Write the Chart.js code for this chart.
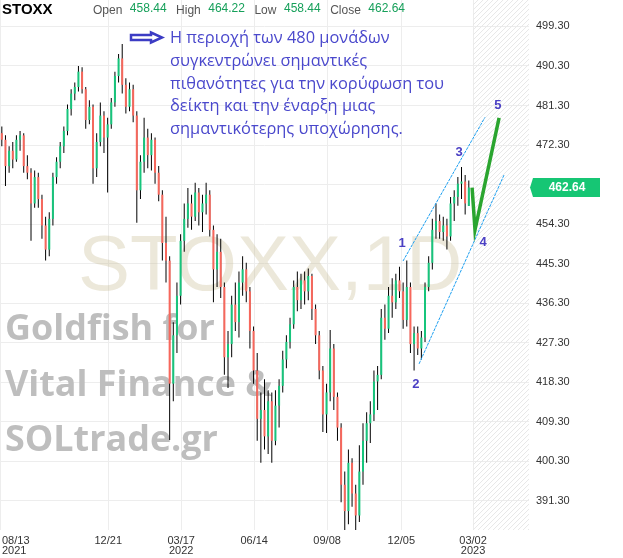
<!DOCTYPE html>
<html>
<head>
<meta charset="utf-8">
<script src="https://cdn.jsdelivr.net/npm/chart.js@4.4.1/dist/chart.umd.min.js"></script>
<style>
  html, body { margin: 0; padding: 0; background: #fff; }
  canvas { display: block; }
</style>
</head>
<body>
<canvas id="stoxxChart" width="623" height="558"></canvas>
<script>
/* ==============================================
   STOXX 600 daily chart (3-session candles)
   ============================================== */

// OHLC, one candle per 3 trading sessions, Aug 2021 -> Mar 2023
const opens = [
  475, 473.5, 467.5, 471, 469, 473.5, 474.5, 467.5, 466, 459,
  465, 460, 454, 448.5, 455.5, 465, 468.5, 472, 475.5, 480.5,
  484, 485.5, 489, 485, 478, 481, 467, 473, 479, 474,
  477, 482, 488, 492, 486, 481, 485, 479, 462, 468.5,
  474, 470, 473.5, 466, 461, 450, 446, 418, 429, 438,
  450.5, 455.5, 459, 456, 461.5, 457, 459, 461, 453, 444,
  448, 440, 424, 427, 436, 432, 441, 444, 439, 430,
  421, 410, 412, 406, 414, 405, 413, 417.5, 423.5, 427.5,
  431.5, 440, 437, 441.5, 439, 442.5, 435, 429, 421, 411,
  416, 426, 415, 408, 395, 389, 400, 393, 388, 398,
  405, 409, 411, 418.5, 420, 433, 430.5, 438, 436.5, 441.5,
  439, 432.5, 440, 427, 429.5, 426, 428.5, 440, 445.5, 453,
  455, 452.5, 454, 451.5, 459, 460.5, 463.5, 464, 458.44
];
const highs = [
  476.5, 474.5, 472, 473, 474.5, 475.5, 475, 470, 467, 466.5,
  466, 461, 456, 457, 466, 469.5, 473, 476.5, 481.5, 485,
  486.5, 490.3, 490, 485.5, 482.5, 481.5, 475, 482, 480, 478.5,
  483, 489, 493, 495.3, 487.5, 486.5, 486, 480, 470, 478.5,
  476, 475, 474, 467.5, 462, 456, 447, 432, 441, 452,
  459, 462.5, 461, 463.7, 462.5, 461, 463.7, 462, 454, 452,
  451, 441, 430, 438, 441, 443.5, 447, 445.5, 440, 431,
  425, 416, 419, 416.5, 416, 416.5, 419, 425.5, 429, 433,
  441.5, 443.5, 443, 443.5, 444.2, 443, 436, 430, 422, 418,
  430.2, 427, 416, 409, 398, 403, 401, 395, 404, 409,
  411.5, 414, 421, 422, 435, 436, 440, 442, 443, 444.6,
  441, 446, 441, 431, 431, 430, 441, 447, 455.5, 459,
  456.5, 456, 455.5, 460.5, 462, 465, 467.3, 465.5, 464.22
];
const lows = [
  472, 463, 466, 467, 468.5, 471, 466, 464.5, 450.5, 458,
  458, 451, 446, 447, 454, 463.5, 467, 470.5, 474.5, 479,
  482.5, 484.5, 484, 476, 477, 463.5, 465, 472, 470.5, 461.5,
  476, 481, 486.5, 484, 479.5, 480, 477.5, 454.6, 460, 466,
  467, 466.5, 463.5, 459.5, 446, 441, 405.2, 414, 425, 436,
  448, 453.5, 453, 455, 454, 452.5, 456.5, 451.5, 436.5, 440,
  437.5, 420, 417, 424, 430, 428.5, 438, 436.5, 426, 418,
  405, 400, 403, 402, 400, 404, 408, 416, 421.5, 426,
  430.5, 434.5, 435, 436, 437, 432.5, 427, 419, 407, 406.8,
  414, 412, 405, 391, 383, 386, 390, 383, 386.5, 395,
  400, 404.5, 409.5, 412, 419, 428, 429.5, 433, 435, 437.5,
  430.5, 431, 425, 421, 424.5, 423.5, 427.5, 439, 444, 451,
  451, 450.5, 448.5, 450.5, 455, 458.5, 460, 456.5, 458.44
];
const closes = [
  473.5, 467.5, 471, 469, 473.5, 474.5, 467.5, 466, 459, 465,
  460, 454, 448.5, 455.5, 465, 468.5, 472, 475.5, 480.5, 484,
  485.5, 489, 485, 478, 481, 467, 473, 479, 474, 477,
  482, 488, 492, 486, 481, 485, 479, 462, 468.5, 474,
  470, 473.5, 466, 461, 450, 446, 418, 429, 438, 450.5,
  455.5, 459, 456, 461.5, 457, 459, 461, 453, 444, 448,
  440, 424, 427, 436, 432, 441, 444, 439, 430, 421,
  410, 412, 406, 414, 405, 413, 417.5, 423.5, 427.5, 431.5,
  440, 437, 441.5, 439, 442.5, 435, 429, 421, 411, 416,
  426, 415, 408, 395, 389, 400, 393, 388, 398, 405,
  409, 411, 418.5, 420, 433, 430.5, 438, 436.5, 441.5, 439,
  432.5, 440, 427, 429.5, 426, 428.5, 440, 445.5, 453, 455,
  452.5, 454, 451.5, 459, 460.5, 463.5, 464, 459, 462.64
];

// x axis is counted in trading sessions; each candle covers 3 sessions
const sessionsPerCandle = 3;
const tickSessions = [0, 89, 149, 209, 269, 330, 389];
const tickLabels = [['08/13', '2021'], ['12/21'], ['03/17', '2022'], ['06/14'], ['09/08'], ['12/05'], ['03/02', '2023']];
const futureStart = 389;
const lastSession = 435;
const priceTicks = [391.3, 400.3, 409.3, 418.3, 427.3, 436.3, 445.3, 454.3, 463.3, 472.3, 481.3, 490.3, 499.3];

// header quote
const quoteNames = ['Open', 'High', 'Low', 'Close'];
const quoteValues = [458.44, 464.22, 458.44, 462.64];

// Elliott wave drawing (session, price)
const channelUpper = [[331.4, 445.9], [398.8, 478.6]];
const channelLower = [[344.6, 422.5], [414.5, 465.5]];
const projection = [[388.2, 462.6], [390.6, 453.0], [410.4, 478.5]];
const waveLabels = [['1', 330.6, 449.8], ['2', 342, 417.9], ['3', 377.5, 470.6], ['4', 397.2, 450.2], ['5', 409.5, 481.4]];
const note = [
  'Η περιοχή των 480 μονάδων',
  'συγκεντρώνει σημαντικές',
  'πιθανότητες για την κορύφωση του',
  'δείκτη και την έναρξη μιας',
  'σημαντικότερης υποχώρησης.'
];
const credits = ['Goldfish for', 'Vital Finance &', 'SOLtrade.gr'];

const UP = '#17c57c';
const DOWN = '#f7675c';
const AXIS_FONT = '"Liberation Sans", Arial, sans-serif';

const candleX = closes.map((c, i) => sessionsPerCandle * i + sessionsPerCandle / 2);
const bodies = closes.map((c, i) => ({ x: candleX[i], y: [opens[i], c] }));
const wicks = closes.map((c, i) => ({ x: candleX[i], y: [lows[i], highs[i]] }));
const bodyColors = closes.map((c, i) => c >= opens[i] ? UP : DOWN);

const overlayPlugin = {
    id: 'overlay',
    beforeDatasetsDraw(chart) {
        const { ctx, chartArea, scales: { x } } = chart;
        const hx = x.getPixelForValue(futureStart);

        // hatched future zone
        ctx.save();
        ctx.beginPath();
        ctx.rect(hx, 0, chartArea.right - hx, chartArea.bottom);
        ctx.clip();
        ctx.strokeStyle = '#e7e7e7';
        ctx.lineWidth = 1;
        for (let t = hx - chartArea.bottom; t < chartArea.right; t += 5) {
            ctx.beginPath();
            ctx.moveTo(t, chartArea.bottom);
            ctx.lineTo(t + chartArea.bottom, 0);
            ctx.stroke();
        }
        ctx.restore();

        // big symbol watermark
        ctx.save();
        ctx.fillStyle = 'rgba(200, 190, 150, 0.35)';
        ctx.font = '78px ' + AXIS_FONT;
        ctx.textBaseline = 'alphabetic';
        ctx.fillText('STOXX,1D', 78, 290);

        // credits
        ctx.font = 'bold 38px "Open Sans", sans-serif';
        const fit = 210 / ctx.measureText(credits[0]).width;
        ctx.font = 'bold ' + (38 * fit).toFixed(1) + 'px "Open Sans", sans-serif';
        ctx.fillStyle = '#bebebe';
        credits.forEach((line, i) => ctx.fillText(line, 5, 340 + i * 55.5));
        ctx.restore();
    },
    afterDatasetsDraw(chart) {
        const { ctx, scales: { x, y } } = chart;
        const pt = (p) => [x.getPixelForValue(p[0]), y.getPixelForValue(p[1])];

        ctx.save();
        // channel
        ctx.strokeStyle = '#1a9ef0';
        ctx.lineWidth = 1;
        ctx.setLineDash([3, 1]);
        [channelUpper, channelLower].forEach(line => {
            ctx.beginPath();
            ctx.moveTo(...pt(line[0]));
            ctx.lineTo(...pt(line[1]));
            ctx.stroke();
        });
        ctx.setLineDash([]);

        // projected path
        ctx.strokeStyle = '#2aa52f';
        ctx.lineWidth = 3.5;
        ctx.beginPath();
        projection.forEach((p, i) => i ? ctx.lineTo(...pt(p)) : ctx.moveTo(...pt(p)));
        ctx.stroke();

        // wave numbers
        ctx.fillStyle = '#4b40c4';
        ctx.font = 'bold 13px ' + AXIS_FONT;
        ctx.textAlign = 'center';
        ctx.textBaseline = 'middle';
        waveLabels.forEach(([t, s, p]) => ctx.fillText(t, ...pt([s, p])));

        // comment text with arrow
        ctx.textAlign = 'left';
        ctx.textBaseline = 'alphabetic';
        ctx.font = '16px "Open Sans", sans-serif';
        const k = 275 / ctx.measureText(note[2]).width;
        ctx.font = (16 * k).toFixed(1) + 'px "Open Sans", sans-serif';
        ctx.fillStyle = '#4a48cc';
        note.forEach((line, i) => ctx.fillText(line, 170, 43 + i * 22.8));

        ctx.beginPath();
        ctx.moveTo(131, 35);
        ctx.lineTo(151, 35);
        ctx.lineTo(151, 32.5);
        ctx.lineTo(162, 37.5);
        ctx.lineTo(151, 42.5);
        ctx.lineTo(151, 40);
        ctx.lineTo(131, 40);
        ctx.closePath();
        ctx.fillStyle = '#ffffff';
        ctx.fill();
        ctx.strokeStyle = '#3c3cc4';
        ctx.lineWidth = 2.5;
        ctx.stroke();
        ctx.restore();
    },
    afterDraw(chart) {
        const { ctx, chartArea, scales: { x, y } } = chart;
        ctx.save();

        // date labels
        ctx.font = '11px ' + AXIS_FONT;
        ctx.fillStyle = '#333';
        ctx.textBaseline = 'alphabetic';
        tickSessions.forEach((s, i) => {
            const cx = x.getPixelForValue(s);
            tickLabels[i].forEach((t, j) => {
                const w = ctx.measureText(t).width;
                ctx.fillText(t, Math.max(2, cx - w / 2), chartArea.bottom + 13.5 + j * 10);
            });
        });

        // last price tag
        const last = closes[closes.length - 1];
        const ty = y.getPixelForValue(last);
        ctx.fillStyle = '#16c674';
        ctx.beginPath();
        ctx.moveTo(chartArea.right + 1, ty);
        ctx.lineTo(chartArea.right + 4, ty - 9.5);
        ctx.lineTo(chartArea.right + 71, ty - 9.5);
        ctx.lineTo(chartArea.right + 71, ty + 9.5);
        ctx.lineTo(chartArea.right + 4, ty + 9.5);
        ctx.closePath();
        ctx.fill();
        ctx.fillStyle = '#fff';
        ctx.font = 'bold 12px ' + AXIS_FONT;
        ctx.textAlign = 'center';
        ctx.textBaseline = 'middle';
        ctx.fillText(last.toFixed(2), chartArea.right + 38, ty + 0.5);

        // header
        ctx.textAlign = 'left';
        ctx.textBaseline = 'alphabetic';
        ctx.fillStyle = '#000';
        ctx.font = 'bold 15px ' + AXIS_FONT;
        ctx.fillText('STOXX', 2, 13.5);
        let hx = 93;
        quoteNames.forEach((name, i) => {
            ctx.font = '12px ' + AXIS_FONT;
            ctx.fillStyle = '#555';
            ctx.fillText(name, hx, 14);
            hx += ctx.measureText(name).width + 7.5;
            const v = quoteValues[i].toFixed(2);
            ctx.fillStyle = '#16a05a';
            ctx.fillText(v, hx, 12);
            hx += ctx.measureText(v).width + 9.5;
        });
        ctx.restore();
    }
};

function initializeChart() {
    const ctx = document.getElementById('stoxxChart').getContext('2d');
    new Chart(ctx, {
        type: 'bar',
        data: {
            datasets: [
                {
                    label: 'Body',
                    data: bodies,
                    backgroundColor: bodyColors,
                    barThickness: 2,
                    grouped: false,
                    inflateAmount: 0,
                    order: 0
                },
                {
                    label: 'Range',
                    data: wicks,
                    backgroundColor: '#000',
                    barThickness: 1,
                    grouped: false,
                    inflateAmount: 0,
                    order: 1
                }
            ]
        },
        options: {
            responsive: false,
            animation: false,
            layout: { padding: { top: 0, left: 0, right: 0, bottom: 28 } },
            plugins: {
                legend: { display: false },
                tooltip: { enabled: false }
            },
            scales: {
                x: {
                    type: 'linear',
                    offset: false,
                    min: 0,
                    max: lastSession,
                    afterBuildTicks: (axis) => { axis.ticks = tickSessions.map(v => ({ value: v })); },
                    afterFit: (axis) => { axis.paddingLeft = 0; axis.paddingRight = 0; },
                    ticks: { display: false },
                    grid: { color: '#ededed', drawTicks: false, offset: false },
                    border: { display: false }
                },
                y: {
                    position: 'right',
                    min: 384.7,
                    max: 505.3,
                    afterBuildTicks: (axis) => { axis.ticks = priceTicks.map(v => ({ value: v })); },
                    afterFit: (axis) => { axis.width = 94; axis.paddingTop = 0; axis.paddingBottom = 0; },
                    ticks: {
                        callback: (v) => Number(v).toFixed(2),
                        font: { size: 11, family: AXIS_FONT },
                        color: '#333',
                        padding: 7
                    },
                    grid: { color: '#ededed', drawTicks: false },
                    border: { display: false }
                }
            }
        },
        plugins: [overlayPlugin]
    });
}

document.addEventListener('DOMContentLoaded', initializeChart);
</script>
</body>
</html>
